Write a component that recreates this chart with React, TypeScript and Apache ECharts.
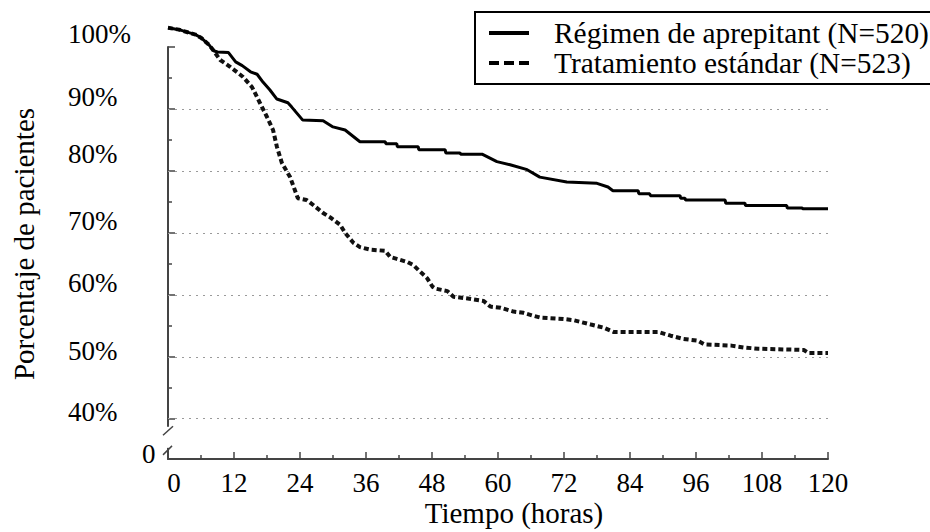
import React, { useEffect, useRef } from 'react';
import * as echarts from 'echarts';

const FONT = '"Liberation Serif", "Times New Roman", "DejaVu Serif", serif';

const seriesNames = ['Régimen de aprepitant (N=520)', 'Tratamiento estándar (N=523)'];
const xTitle = 'Tiempo (horas)';
const yTitle = 'Porcentaje de pacientes';

// [hours, percent]
const aprepitantCurve: [number, number][] = [
  [0, 103.1], [2, 102.8], [5, 102.0], [6, 101.5], [7.5, 100.3], [8.3, 99.4], [9, 99.2], [11, 99.1],
  [12.3, 97.6], [13.5, 97.0], [15, 96.0], [16.2, 95.6], [17.3, 94.3], [18.5, 93.1], [19.8, 91.6],
  [21.8, 91.0], [22.5, 90.3], [24.5, 88.2], [28.2, 88.1], [30, 87.1], [32.2, 86.6], [34.9, 84.7],
  [39.5, 84.7], [39.6, 84.4], [41.6, 84.4], [41.7, 83.9], [45.5, 83.9], [45.6, 83.4], [50.4, 83.4],
  [50.5, 82.9], [53.1, 82.9], [53.2, 82.7], [57.1, 82.7], [59.8, 81.5], [62.2, 81.0], [65.3, 80.2],
  [67.6, 79.0], [72.5, 78.2], [78.0, 78.0], [80.0, 77.4], [80.9, 76.8], [85.5, 76.8], [85.6, 76.3],
  [87.6, 76.3], [87.7, 76.0], [93.1, 76.0], [93.2, 75.6], [94, 75.6], [94.1, 75.3], [101.3, 75.3],
  [101.4, 74.8], [104.9, 74.8], [105, 74.4], [112.5, 74.4], [112.6, 74.0], [115.3, 74.0],
  [115.4, 73.9], [120, 73.9],
];

const standardCurve: [number, number][] = [
  [0, 103.1], [2, 102.8], [5, 102.0], [6, 101.5], [7.5, 100.3], [8.2, 99.5], [9.5, 97.9], [11.3, 96.8],
  [13.6, 95.2], [15.3, 93.5], [16.7, 91.0], [18, 88.7], [19.1, 86.6], [19.8, 83.9], [20.7, 81.3],
  [22.2, 79.0], [23.6, 75.6], [25.2, 75.3], [26.4, 74.5], [28.2, 73.2], [29.5, 72.5], [31.3, 71.3],
  [32.2, 70.0], [33.7, 68.4], [34.9, 67.7], [36.7, 67.3], [39.5, 67.1], [40.4, 66.1], [41.6, 65.8],
  [43.5, 65.3], [44.6, 64.8], [45.9, 63.7], [47.1, 62.7], [48.1, 61.3], [48.6, 61.0], [50.8, 60.6],
  [51.9, 59.7], [54.5, 59.4], [57.4, 59.0], [58.6, 58.1], [60.5, 57.9], [62.8, 57.3], [64.6, 57.1],
  [66.5, 56.6], [67.8, 56.3], [71.9, 56.1], [73.8, 55.9], [76.9, 55.2], [79.2, 54.7], [81.0, 54.0],
  [89.2, 54.0], [91.4, 53.4], [93.6, 52.9], [96.3, 52.6], [97.5, 52.0], [102.4, 51.8], [104.7, 51.5],
  [107.3, 51.3], [115.6, 51.1], [116.5, 50.6], [120, 50.6],
];

// y axis: the "0" sits below a break, at Y_ZERO on the linear scale
const Y_ZERO = 33.5;
const Y_MAX = 100;
const yLabelValues = [Y_ZERO, 40, 50, 60, 70, 80, 90, 100];
const yLabelTexts = ['0', '40%', '50%', '60%', '70%', '80%', '90%', '100%'];
const yMajorTicks = [40, 50, 60, 70, 80, 90, 100];
const yMinorTicks = [45, 55, 65, 75, 85, 95];
const gridValues = [40, 50, 60, 70, 80, 90];
const breakRange = [35.3, 38.7];

const X_MIN = 0;
const X_MAX = 120;
const X_STEP = 12;

// per-label upward shift (px*2) and left pad, styling only
const labelPadBottom = [10, 13, 12, 24, 24, 34, 23, 27];
const labelPadLeft = [74, 0, 0, 0, 0, 0, 0, 0];

const AXIS_COLOR = '#444';

export default function App() {
  const ref = useRef<HTMLDivElement>(null);

  useEffect(() => {
    if (!ref.current) return;
    const chart = echarts.init(ref.current, undefined, { renderer: 'svg' });

    const rich: Record<string, any> = {};
    yLabelTexts.forEach((_, i) => {
      rich['l' + i] = {
        fontFamily: FONT,
        fontSize: 27,
        color: '#000',
        padding: [0, 0, labelPadBottom[i], labelPadLeft[i]],
      };
    });

    const option: any = {
      animation: false,
      backgroundColor: '#fff',
      grid: { left: 168, right: 102, top: 47, bottom: 73, containLabel: false, outerBoundsMode: 'none' },
      legend: {
        left: 475,
        top: 12,
        orient: 'vertical',
        selectedMode: false,
        borderColor: '#000',
        borderWidth: 2,
        padding: [6, 60, 6, 14],
        itemWidth: 40,
        itemHeight: 4,
        itemGap: 0,
        itemStyle: { borderWidth: 0 },
        textStyle: { fontFamily: FONT, fontSize: 29.4, color: '#000', padding: [0, 0, 0, 20], lineHeight: 30 },
        data: [
          { name: seriesNames[0], icon: 'rect' },
          { name: seriesNames[1], icon: 'path://M0,0h10v4h-10z M15,0h10v4h-10z M30,0h10v4h-10z' },
        ],
      },
      xAxis: {
        type: 'value',
        min: X_MIN,
        max: X_MAX,
        interval: X_STEP,
        name: xTitle,
        nameLocation: 'middle',
        nameGap: 39,
        nameMoveOverlap: false,
        nameTextStyle: { fontFamily: FONT, fontSize: 29, color: '#000', padding: [0, 0, 0, 32] },
        axisLine: { show: true, onZero: false, lineStyle: { color: AXIS_COLOR, width: 2 } },
        axisTick: { show: true, inside: true, length: 7, lineStyle: { color: AXIS_COLOR, width: 1.5 } },
        minorTick: { show: true, splitNumber: 2, length: 4, lineStyle: { color: AXIS_COLOR, width: 1.5 } },
        axisLabel: {
          fontFamily: FONT,
          fontSize: 27,
          color: '#000',
          margin: 10,
          formatter: (v: number) => (v === X_MIN ? `{z|${v}}` : String(v)),
          rich: { z: { fontFamily: FONT, fontSize: 27, color: '#000', padding: [0, 0, 0, 12] } },
        },
        splitLine: { show: false },
      },
      yAxis: [
        {
          type: 'value',
          min: Y_ZERO,
          max: Y_MAX,
          position: 'left',
          name: yTitle,
          nameLocation: 'middle',
          nameRotate: 90,
          nameGap: 130,
          nameMoveOverlap: false,
          nameTextStyle: { fontFamily: FONT, fontSize: 29, color: '#000', padding: [0, 0, 0, 18] },
          axisLine: { show: true, onZero: false, lineStyle: { color: AXIS_COLOR, width: 2 } },
          axisTick: { show: true, inside: true, length: 7, customValues: yMajorTicks, lineStyle: { color: AXIS_COLOR, width: 1.5 } },
          axisLabel: {
            show: true,
            customValues: yLabelValues,
            align: 'left',
            margin: 100,
            formatter: (v: number) => {
              const i = yLabelValues.findIndex((t) => Math.abs(t - v) < 1e-6);
              return i < 0 ? '' : `{l${i}|${yLabelTexts[i]}}`;
            },
            rich,
          },
          splitLine: { show: false },
        },
        {
          type: 'value',
          min: Y_ZERO,
          max: Y_MAX,
          position: 'left',
          offset: 0,
          axisLine: { show: false },
          axisTick: { show: true, inside: true, length: 4, customValues: yMinorTicks, lineStyle: { color: AXIS_COLOR, width: 1.5 } },
          axisLabel: { show: false },
          splitLine: { show: false },
        },
      ],
      series: [
        {
          name: seriesNames[0],
          type: 'line',
          data: aprepitantCurve,
          symbol: 'none',
          showSymbol: false,
          clip: false,
          color: '#000',
          itemStyle: { color: '#000' },
          lineStyle: { color: '#000', width: 3 },
          z: 5,
          markLine: {
            silent: true,
            symbol: ['none', 'none'],
            label: { show: false },
            lineStyle: { type: [2, 5], color: '#9a9a9a', width: 1 },
            emphasis: { disabled: true },
            data: gridValues.map((v) => ({ yAxis: v })),
          },
        },
        {
          name: seriesNames[1],
          type: 'line',
          data: standardCurve,
          symbol: 'none',
          showSymbol: false,
          clip: false,
          color: '#000',
          itemStyle: { color: '#000' },
          lineStyle: { color: '#111', width: 4, type: [5, 3] },
          z: 4,
        },
      ],
    };

    chart.setOption(option);

    const top = chart.convertToPixel({ xAxisIndex: 0, yAxisIndex: 0 }, [X_MIN, breakRange[1]]) as number[];
    const bot = chart.convertToPixel({ xAxisIndex: 0, yAxisIndex: 0 }, [X_MIN, breakRange[0]]) as number[];
    if (top && bot) {
      const x = top[0];
      chart.setOption({
        graphic: [
          { type: 'rect', z: 100, shape: { x: x - 3, y: top[1], width: 6, height: bot[1] - top[1] }, style: { fill: '#fff' } },
          { type: 'line', z: 101, shape: { x1: x - 5, y1: top[1] + 8.5, x2: x + 5, y2: top[1] - 0.5 }, style: { stroke: AXIS_COLOR, lineWidth: 1.5 } },
          { type: 'line', z: 101, shape: { x1: x - 5, y1: bot[1] + 7, x2: x + 4, y2: bot[1] - 2 }, style: { stroke: AXIS_COLOR, lineWidth: 1.5 } },
        ],
      });
    }

    return () => chart.dispose();
  }, []);

  return (
    <div
      ref={ref}
      style={{ position: 'fixed', left: 0, top: 0, width: 930, height: 532, background: '#fff' }}
    />
  );
}
